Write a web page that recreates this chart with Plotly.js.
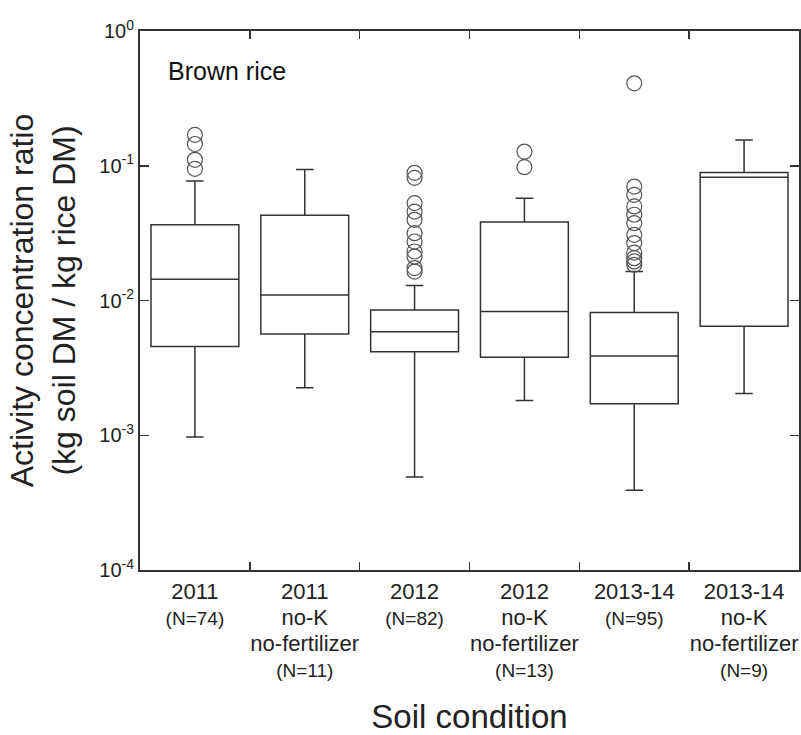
<!DOCTYPE html>
<html>
<head>
<meta charset="utf-8">
<script src="https://cdn.plot.ly/plotly-3.0.1.min.js"></script>
<style>
  html, body { margin: 0; padding: 0; background: #fff; }
  #chart { width: 801px; height: 735px; }
</style>
</head>
<body>
<div id="chart"></div>
<script>
// Soil conditions (one box per condition) and their sample sizes
const conditions = ['2011', '2011 no-K', '2012', '2012 no-K', '2013-14', '2013-14 no-K'];
const conditionLines = [
  ['2011'],
  ['2011', 'no-K', 'no-fertilizer'],
  ['2012'],
  ['2012', 'no-K', 'no-fertilizer'],
  ['2013-14'],
  ['2013-14', 'no-K', 'no-fertilizer']
];
const sampleSizes = [74, 11, 82, 13, 95, 9];

// Box statistics of the activity concentration ratio
const lowerFence = [0.00097, 0.00225, 0.00049, 0.00181, 0.00039, 0.00204];
const q1         = [0.00455, 0.00564, 0.00417, 0.00379, 0.00171, 0.00643];
const median     = [0.0144,  0.0110,  0.00587, 0.0083,  0.00387, 0.0823];
const q3         = [0.0365,  0.0430,  0.0085,  0.0382,  0.00816, 0.0891];
const upperFence = [0.0769,  0.0937,  0.0129,  0.0575,  0.0164,  0.155];

// Outliers beyond the whiskers, per condition
const outliers2011 = [0.1695, 0.145, 0.1106, 0.0948];
const outliers2011NoK = [];
const outliers2012 = [0.0886, 0.0813, 0.0528, 0.0457, 0.0397, 0.0316, 0.0274, 0.0231, 0.0212, 0.0174, 0.0164];
const outliers2012NoK = [0.1274, 0.0976];
const outliers2013 = [0.409, 0.0701, 0.0608, 0.0499, 0.0433, 0.0375, 0.0307, 0.0267, 0.0227, 0.0206, 0.0195, 0.0184];
const outliers2013NoK = [];

// Log-axis decades and their labels
const yTickVals = [1e-4, 1e-3, 1e-2, 1e-1, 1];
const yTickText = ['10<sup>-4</sup>', '10<sup>-3</sup>', '10<sup>-2</sup>', '10<sup>-1</sup>', '10<sup>0</sup>'];

const outlierGroups = [outliers2011, outliers2011NoK, outliers2012, outliers2012NoK, outliers2013, outliers2013NoK];
const outX = [], outY = [];
outlierGroups.forEach((vals, i) => vals.forEach(v => { outX.push(conditions[i]); outY.push(v); }));

// Category labels: condition lines in a larger size, sample size below in a smaller one
const xTickText = conditionLines.map((lines, i) =>
  lines.map(l => '<span style="font-size:22px">' + l + '</span>').join('<br>') +
  '<br><span style="font-size:19px">(N=' + sampleSizes[i] + ')</span>'
);

const ink = '#222';
const font = 'Liberation Sans, Arial, Helvetica, sans-serif';

const traces = [
  {
    type: 'box',
    x: conditions,
    lowerfence: lowerFence,
    q1: q1,
    median: median,
    q3: q3,
    upperfence: upperFence,
    boxpoints: false,
    width: 0.8,
    fillcolor: 'rgba(255,255,255,0)',
    line: { color: '#333', width: 1.5 },
    whiskerwidth: 0.2,
    hoverinfo: 'y'
  },
  {
    type: 'scatter',
    mode: 'markers',
    x: outX,
    y: outY,
    marker: { symbol: 'circle-open', size: 15, color: '#555', line: { width: 1.2, color: '#555' } },
    hoverinfo: 'y'
  }
];

const layout = {
  width: 801,
  height: 735,
  margin: { l: 140, r: 2, t: 31, b: 165 },
  paper_bgcolor: '#fff',
  plot_bgcolor: '#fff',
  showlegend: false,
  font: { family: font, color: ink },
  xaxis: {
    type: 'category',
    range: [-0.5, 5.5],
    tickmode: 'array',
    tickvals: conditions,
    ticktext: xTickText,
    tickangle: 0,
    tickson: 'boundaries',
    ticks: 'inside',
    ticklen: 8,
    tickwidth: 1.5,
    tickcolor: '#333',
    ticklabelstandoff: 3,
    tickfont: { size: 20, color: ink, family: font },
    showline: true,
    linecolor: '#333',
    linewidth: 2,
    mirror: 'ticks',
    showgrid: false,
    zeroline: false,
    title: { text: 'Soil condition', font: { size: 33, color: ink, family: font }, standoff: 34 }
  },
  yaxis: {
    type: 'log',
    range: [-4, 0],
    tickmode: 'array',
    tickvals: yTickVals,
    ticktext: yTickText,
    ticks: 'inside',
    ticklen: 9,
    tickwidth: 1.5,
    tickcolor: '#333',
    tickfont: { size: 20, color: ink, family: font },
    showline: true,
    linecolor: '#333',
    linewidth: 2,
    mirror: 'ticks',
    showgrid: false,
    zeroline: false,
    title: { text: 'Activity concentration ratio<br>(kg soil DM / kg rice DM)', font: { size: 32, color: ink, family: font }, standoff: 14 }
  },
  annotations: [
    {
      text: 'Brown rice',
      xref: 'paper', yref: 'paper',
      x: 0.04, y: 0.925,
      xanchor: 'left', yanchor: 'middle',
      showarrow: false,
      font: { size: 25, color: '#111', family: font }
    }
  ]
};

Plotly.newPlot('chart', traces, layout, { displayModeBar: false, staticPlot: true });
</script>
</body>
</html>
